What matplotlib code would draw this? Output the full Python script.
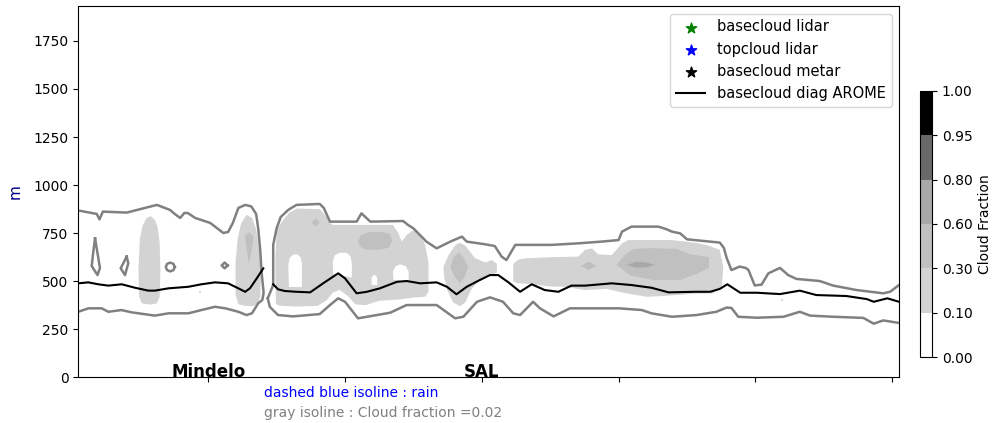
import matplotlib
matplotlib.use("Agg")
import numpy as np
import matplotlib.pyplot as plt
from matplotlib.colors import ListedColormap, BoundaryNorm
from matplotlib.cm import ScalarMappable

# cloud fraction classes (colorbar)
cf_levels = [0.0, 0.1, 0.3, 0.6, 0.8, 0.95, 1.0]
cf_colors = ["white", "lightgray", "silver", "darkgray", "dimgray", "black"]

stations = ["Mindelo", "SAL"]
station_x = [19, 59]
xticks = [19, 39, 59, 79, 99, 119]

# gray isoline cf=0.02, west part (top edge, then back along the bottom edge)
iso_w_x = [0, 2.7, 3.1, 3.6, 7.1, 9.5, 11.5, 13.4, 14.1, 14.9, 15.5, 16.0, 17.1, 19.3,
           21.2, 21.9, 22.6, 23.4, 24.4, 25.3, 26.0, 26.3, 26.6, 26.8, 27.1, 26.9, 26.3,
           25.4, 24.6, 23.4, 21.5, 20.0, 18.0, 16.1, 13.2, 11.2, 7.8, 6.3, 4.4, 3.4, 1.5, 0]
iso_w_z = [868, 850, 822, 862, 857, 879, 897, 871, 850, 829, 855, 855, 829, 803,
           751, 756, 803, 881, 897, 889, 850, 777, 663, 548, 439, 402, 385,
           333, 324, 341, 359, 367, 350, 333, 333, 321, 338, 350, 341, 359, 359, 341]

# east part, top edge and bottom edge
iso_e_top_x = [27.7, 28.5, 28.5, 29.0, 29.6, 30.7, 31.9, 35.3, 35.9, 36.8,
               40.7, 41.4, 42.7, 47.5, 48.2, 49.0, 50.9, 52.4, 54.4, 56.1,
               56.8, 59.5, 60.9, 61.9, 62.6, 63.9, 69.2, 73.1, 76.5, 79.0,
               79.5, 80.9, 84.8, 85.9, 86.8, 88.0, 89.0, 93.8, 94.4, 94.8,
               95.5, 96.7, 97.6, 98.0, 98.9, 99.9, 100.9, 102.6, 103.8, 105.0,
               108.4, 110.4, 113.8, 117.7, 118.7, 120]
iso_e_top_z = [411, 480, 689, 775, 834, 871, 897, 902, 881, 810,
               810, 853, 810, 813, 793, 775, 706, 671, 706, 732,
               706, 692, 683, 628, 610, 689, 689, 697, 706, 714,
               758, 784, 784, 772, 758, 749, 718, 701, 673, 621,
               558, 576, 569, 558, 478, 482, 541, 569, 532, 512,
               501, 477, 454, 437, 445, 480]
iso_e_bot_x = [27.7, 28.0, 29.2, 31.4, 35.3, 36.8, 38.0, 39.0, 40.9, 42.2,
               45.6, 48.0, 52.4, 55.1, 56.3, 58.3, 60.2, 62.1, 63.6, 64.6,
               66.5, 67.5, 69.5, 71.9, 75.3, 79.0, 82.4, 83.8, 86.8, 90.4,
               93.3, 94.8, 95.5, 96.5, 99.2, 103.1, 105.5, 107.0, 110.4, 114.8,
               116.3, 117.7, 120]
iso_e_bot_z = [411, 367, 324, 317, 329, 376, 411, 393, 307, 315,
               336, 376, 376, 307, 315, 393, 416, 393, 333, 324,
               393, 359, 317, 359, 359, 359, 350, 333, 315, 324,
               341, 363, 361, 315, 310, 315, 341, 321, 315, 309,
               279, 296, 283]

# small closed isolines near Mindelo
loop1_x = [2.45, 3.17, 2.81, 1.96, 2.19, 2.45]
loop1_z = [723, 569, 532, 579, 652, 723]
loop2_x = [7.07, 7.31, 6.83, 6.20, 7.07]
loop2_z = [628, 593, 532, 567, 628]
loop3_x = [14.11, 13.92, 13.45, 12.98, 12.79, 12.98, 13.45, 13.92, 14.11]
loop3_z = [574, 590, 597, 590, 574, 558, 551, 558, 574]
loop4_x = [21.84, 21.4, 20.96, 21.4, 21.84]
loop4_z = [582, 597, 582, 567, 582]

# basecloud diag AROME
base_x = [0, 1.46, 2.92, 4.39, 6.35, 8.29, 10.24, 11.2, 13.2, 16.1,
          18.0, 20.0, 21.9, 23.4, 24.4, 25.1, 26.1, 27.05, 27.8, 28.5,
          29.2, 30.2, 31.9, 33.9, 35.8, 38.0, 39.0, 40.7, 42.2, 44.1,
          46.6, 48.0, 50.0, 52.4, 53.9, 55.3, 56.8, 58.7, 60.2, 61.4,
          62.9, 64.6, 66.3, 68.2, 70.2, 72.1, 74.1, 78.0, 80.9, 83.8,
          86.3, 90.2, 92.4, 93.8, 94.9, 95.8, 96.8, 99.2, 102.6, 105.5,
          107.9, 112.3, 115.3, 116.3, 118.3, 120]
base_z = [489, 494, 484, 477, 484, 466, 451, 451, 463, 471,
          484, 494, 489, 463, 445, 463, 515, 567, np.nan, 484,
          458, 449, 445, 442, 489, 541, 515, 437, 445, 463,
          497, 501, 489, 494, 471, 432, 471, 506, 532, 532,
          494, 445, 484, 454, 445, 477, 477, 489, 480, 466,
          442, 445, 445, 460, 484, 463, 440, 440, 433, 451,
          428, 423, 407, 393, 411, 393]

# cloud fraction 0.1-0.3 patches
light_a_x = [9.3, 8.9, 8.8, 9.0, 9.4, 10.0, 10.6, 11.2, 11.6, 11.9, 12.0, 11.9, 11.5, 10.5]
light_a_z = [385, 420, 560, 720, 790, 830, 838, 820, 780, 700, 560, 420, 385, 378]
light_b_x = [23.4, 23.0, 23.0, 23.3, 23.8, 24.6, 25.4, 26.0, 26.5, 26.7, 26.6, 26.2, 25.5, 24.3]
light_b_z = [380, 430, 600, 720, 800, 845, 830, 770, 650, 520, 420, 380, 370, 372]
light_c_x = [28.9, 28.8, 29.0, 29.5, 30.2, 30.9, 32.0, 35.3, 36.1, 36.8, 37.2, 46.0,
             46.8, 47.3, 48.0, 49.0, 50.0, 50.7, 51.2, 51.2, 50.7, 49.0, 47.0, 44.0,
             42.0, 40.5, 39.5, 38.2, 37.2, 36.3, 35.0, 32.0, 29.5]
light_c_z = [380, 600, 760, 795, 830, 858, 878, 875, 845, 805, 793, 793,
             750, 706, 740, 766, 740, 690, 601, 445, 419, 415, 405, 398,
             375, 380, 420, 455, 440, 400, 372, 368, 372]
light_e_x = [53.4, 54.2, 55.2, 55.8, 56.6, 58.0, 59.5, 60.5, 61.2, 61.2, 60.4, 58.8,
             57.5, 56.6, 55.8, 54.8, 54.0, 53.5]
light_e_z = [576, 640, 690, 700, 685, 620, 597, 610, 590, 545, 530, 510,
             460, 390, 370, 390, 450, 520]
light_f_x = [63.6, 63.6, 64.3, 65.3, 69.2, 73.1, 74.1, 75.1, 76.0, 78.0, 79.5, 80.4,
             83.8, 86.8, 90.2, 91.9, 93.8, 94.3, 94.1, 92.8, 90.2, 85.5, 83.1, 79.7,
             77.3, 74.1, 71.0, 69.2, 66.0, 64.2]
light_f_z = [500, 590, 612, 619, 625, 628, 663, 671, 640, 636, 697, 714,
             714, 714, 700, 688, 663, 576, 472, 437, 435, 423, 419, 440,
             460, 454, 472, 472, 485, 490]
speck1_x = [17.6, 17.8, 18.0, 17.8]
speck1_z = [445, 452, 445, 438]
speck2_x = [102.7, 102.9, 103.1, 102.9]
speck2_z = [402, 410, 402, 396]

# clear gaps inside the big patch
hole1_x = [30.8, 30.7, 30.9, 31.4, 32.0, 32.5, 32.7, 32.7]
hole1_z = [470, 580, 620, 638, 640, 625, 590, 470]
hole2_x = [37.3, 37.2, 37.5, 38.2, 39.2, 39.8, 40.0, 40.0]
hole2_z = [535, 600, 635, 648, 648, 630, 590, 520]
hole3_x = [42.9, 42.9, 43.3, 43.7, 43.7]
hole3_z = [480, 520, 535, 520, 480]
hole4_x = [46.1, 46.0, 46.4, 47.1, 47.9, 48.3, 48.3]
hole4_z = [506, 550, 578, 588, 578, 550, 500]

# cloud fraction 0.3-0.6 cores
mid_b_x = [24.5, 24.4, 25.0, 25.6, 25.5, 24.95]
mid_b_z = [700, 740, 755, 735, 690, 590]
mid_c1_x = [34.1, 34.7, 35.3, 34.7]
mid_c1_z = [805, 829, 805, 784]
mid_c2_x = [40.9, 41.3, 42.5, 44.5, 45.6, 45.9, 45.4, 44.0, 42.0, 41.2]
mid_c2_z = [705, 740, 756, 756, 745, 710, 675, 663, 665, 680]
mid_e_x = [54.4, 54.9, 55.6, 56.3, 57.0, 56.5, 55.8, 55.0]
mid_e_z = [575, 625, 650, 625, 575, 525, 490, 525]
mid_f1_x = [73.5, 74.6, 75.8, 74.6]
mid_f1_z = [580, 602, 580, 558]
mid_f2_x = [78.7, 80.0, 81.2, 84.0, 87.5, 89.5, 92.2, 92.2, 90.5, 88.0, 84.1, 80.7]
mid_f2_z = [584, 640, 668, 672, 668, 640, 625, 570, 540, 506, 506, 530]

# cloud fraction 0.6-0.8 core
dark_f_x = [80.2, 81.5, 83.0, 84.3, 83.0, 81.5]
dark_f_z = [585, 600, 598, 585, 572, 570]

fig = plt.figure(figsize=(9.96, 4.23), dpi=100)
ax = fig.add_axes([0.0786, 0.108, 0.824, 0.877])
cax = fig.add_axes([0.9237, 0.156, 0.012, 0.629])

light_patches = [(light_a_x, light_a_z), (light_b_x, light_b_z), (light_c_x, light_c_z),
                 (light_e_x, light_e_z), (light_f_x, light_f_z),
                 (speck1_x, speck1_z), (speck2_x, speck2_z)]
for px, pz in light_patches:
    ax.fill(px, pz, color=cf_colors[1], lw=0)
for px, pz in [(hole1_x, hole1_z), (hole2_x, hole2_z), (hole3_x, hole3_z), (hole4_x, hole4_z)]:
    ax.fill(px, pz, color=cf_colors[0], lw=0)
mid_patches = [(mid_b_x, mid_b_z), (mid_c1_x, mid_c1_z), (mid_c2_x, mid_c2_z),
               (mid_e_x, mid_e_z), (mid_f1_x, mid_f1_z), (mid_f2_x, mid_f2_z)]
for px, pz in mid_patches:
    ax.fill(px, pz, color=cf_colors[2], lw=0)
ax.fill(dark_f_x, dark_f_z, color=cf_colors[3], lw=0)

# isolines
iso_kw = dict(color="gray", lw=1.8)
ax.plot(iso_w_x, iso_w_z, **iso_kw)
ax.plot(iso_e_top_x, iso_e_top_z, **iso_kw)
ax.plot(iso_e_bot_x, iso_e_bot_z, **iso_kw)
for lx, lz in [(loop1_x, loop1_z), (loop2_x, loop2_z), (loop3_x, loop3_z), (loop4_x, loop4_z)]:
    ax.plot(lx, lz, **iso_kw)

# legend entries (no lidar / metar obs on this section)
ax.scatter([], [], marker="*", color="green", s=60, label="basecloud lidar")
ax.scatter([], [], marker="*", color="blue", s=60, label="topcloud lidar")
ax.scatter([], [], marker="*", color="black", s=60, label="basecloud metar")
ax.plot(base_x, base_z, color="black", lw=1.5, label="basecloud diag AROME")
ax.legend(loc="upper right", fontsize=10.5)

for name, sx in zip(stations, station_x):
    ax.text(sx, 0, name, ha="center", va="baseline", fontsize=12, fontweight="bold")

ax.set_xlim(0, 120)
ax.set_ylim(0, 1930)
ax.set_xticks(xticks)
ax.set_xticklabels([])
ax.set_yticks(np.arange(0, 1751, 250))
ax.set_ylabel("m", color="navy", fontsize=11, labelpad=8)

sm = ScalarMappable(norm=BoundaryNorm(cf_levels, len(cf_colors)), cmap=ListedColormap(cf_colors))
cb = fig.colorbar(sm, cax=cax, ticks=cf_levels, format="%.2f")
cb.set_label("Cloud Fraction")

fig.text(264 / 996, 1 - 393 / 423, "dashed blue isoline : rain", color="blue", va="center")
fig.text(264 / 996, 1 - 413 / 423, "gray isoline : Cloud fraction =0.02", color="gray", va="center")

fig.savefig("out.png", dpi=100)
